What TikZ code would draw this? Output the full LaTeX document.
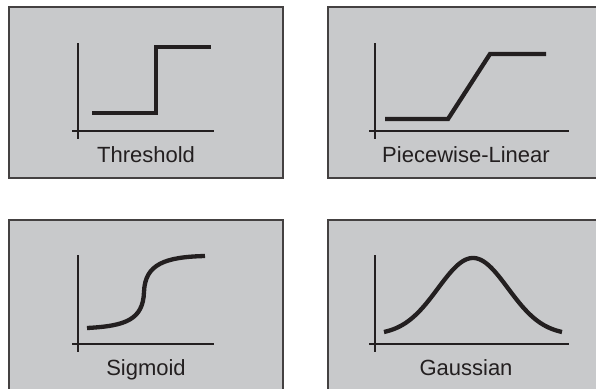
\documentclass[tikz,border=0pt]{standalone}
\usepackage{fontspec}
\setmainfont{Liberation Sans}
\definecolor{panelgray}{HTML}{C8C9CB}
\definecolor{ink}{HTML}{231F20}
\tikzset{
  panel/.style={fill=panelgray, draw=ink!85, line width=2pt},
  axis/.style={draw=ink, line width=1.4pt},
  curve/.style={draw=ink, line width=4.3pt, line join=miter},
  caption/.style={anchor=base, font=\fontsize{22}{24}\selectfont, text=ink, inner sep=0pt}
}
\begin{document}
\begin{tikzpicture}[x=1pt,y=-1pt]
\useasboundingbox (0,0) rectangle (596,388);
\clip (0,0) rectangle (596,388);
\fill[white] (0,0) rectangle (596,388);
% panels
\draw[panel] (9,7) rectangle (283,178);
\draw[panel] (328,7) rectangle (610,178);
\draw[panel] (9,220) rectangle (283,400);
\draw[panel] (328,220) rectangle (610,400);
% Threshold
\draw[axis] (78,43) -- (78,139);
\draw[axis] (72,131) -- (214,131);
\draw[curve] (92,113) -- (156,113) -- (156,47) -- (211,47);
\node[caption] (t1) at (146,162) {Threshold};
% Piecewise-Linear
\draw[axis] (375,43) -- (375,139);
\draw[axis] (369,131) -- (569,131);
\draw[curve] (385,119) -- (448,119) -- (490,54) -- (546,54);
\node[caption] (t2) at (466,162) {Piecewise-Linear};
% Sigmoid
\draw[axis] (78,255) -- (78,352);
\draw[axis] (72,344) -- (214,344);
\draw[curve] (87,328) .. controls (125,326) and (143,320) .. (144,292)
                     .. controls (145,264) and (165,257) .. (205,256);
\node[caption] (t3) at (146,375) {Sigmoid};
% Gaussian
\draw[axis] (375,255) -- (375,352);
\draw[axis] (369,344) -- (569,344);
\draw[curve] plot[domain=384:562, samples=120, smooth] (\x, {335-77*exp(-((\x-473)/35)^2/2)});
\node[caption] (t4) at (466,375) {Gaussian};
\end{tikzpicture}
\end{document}
